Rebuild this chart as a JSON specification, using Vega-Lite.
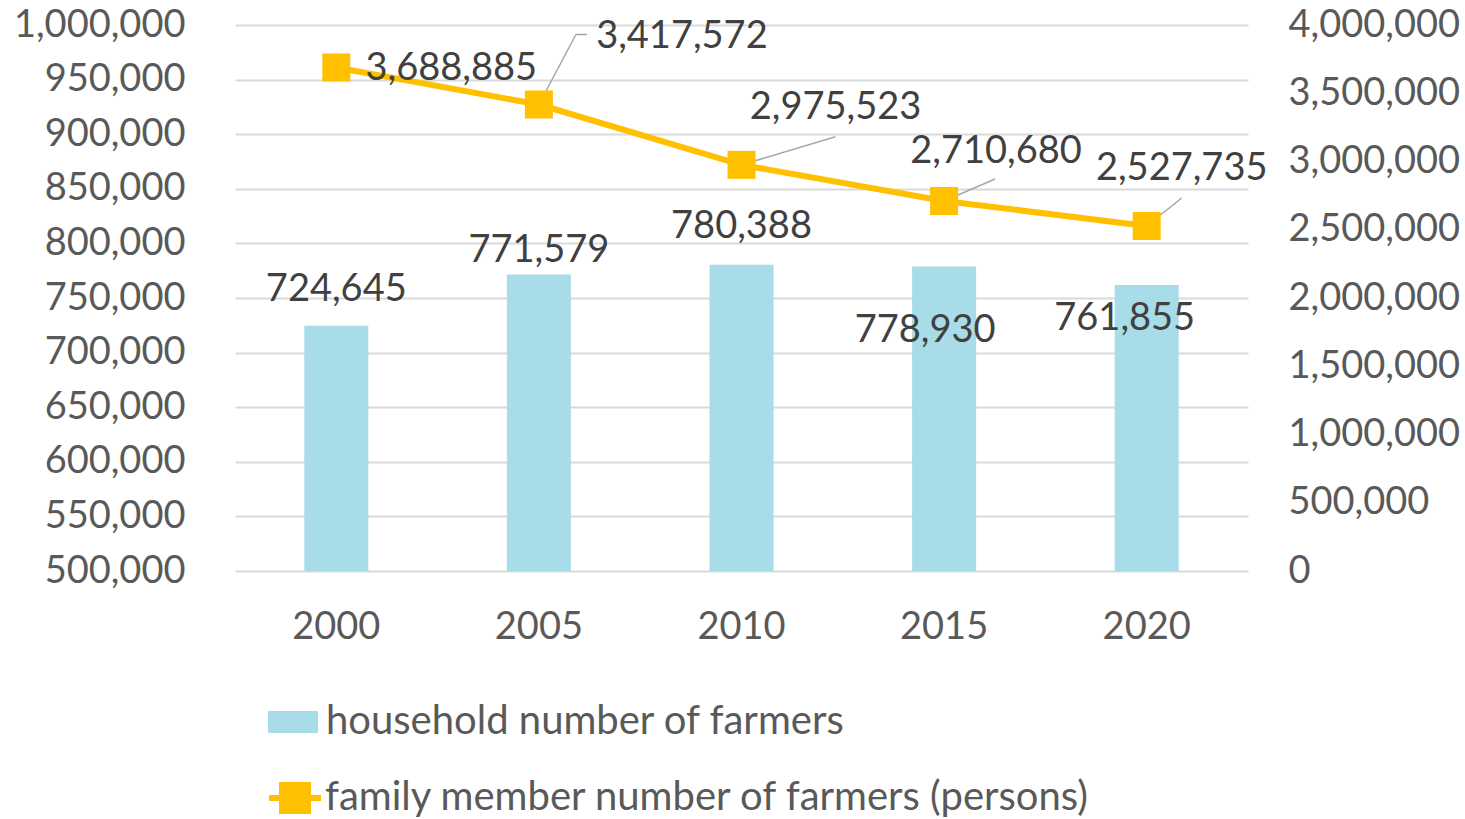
{
  "$schema": "https://vega.github.io/schema/vega-lite/v6.json",
  "width": 1013,
  "height": 546,
  "autosize": {"type": "none"},
  "padding": {"left": 235, "top": 25, "right": 217, "bottom": 248},
  "background": "#ffffff",
  "config": {
    "font": "Lato",
    "view": {"stroke": null},
    "axis": {"labelFont": "Lato", "labelFontSize": 38, "labelColor": "#595959", "ticks": false, "domain": false, "titleFontSize": 0},
    "legend": {"labelFont": "Lato", "labelFontSize": 40, "labelColor": "#595959", "labelLimit": 900}
  },
  "data": {
    "values": [
      {"year": "2000", "households": 724645, "members": 3688885},
      {"year": "2005", "households": 771579, "members": 3417572},
      {"year": "2010", "households": 780388, "members": 2975523},
      {"year": "2015", "households": 778930, "members": 2710680},
      {"year": "2020", "households": 761855, "members": 2527735}
    ]
  },
  "encoding": {
    "x": {
      "field": "year", "type": "nominal",
      "scale": {"paddingInner": 0.684, "paddingOuter": 0.342},
      "axis": {"title": null, "labelAngle": 0, "labelPadding": 37, "grid": false}
    }
  },
  "layer": [
    {
      "encoding": {
        "y": {
          "field": "households", "type": "quantitative",
          "scale": {"domain": [500000, 1000000], "zero": false, "nice": false},
          "axis": {"title": null, "orient": "left", "values": [500000, 550000, 600000, 650000, 700000, 750000, 800000, 850000, 900000, 950000, 1000000], "format": ",d", "grid": true, "gridColor": "#d9d9d9", "gridWidth": 2, "labelPadding": 50}
        }
      },
      "layer": [
        {
          "mark": {"type": "bar"},
          "encoding": {
            "y2": {"datum": 500000},
            "fill": {
              "datum": "household number of farmers",
              "type": "nominal",
              "scale": {"range": ["#a8dce8"]},
              "legend": {"title": null, "orient": "none", "legendX": 33, "legendY": 672, "symbolType": "M-1,-0.44H1V0.44H-1Z", "symbolSize": 2500, "symbolStrokeWidth": 0, "labelOffset": 8}
            }
          }
        },
        {"transform": [{"filter": "datum.year == '2000'"}], "mark": {"type": "text", "fontSize": 38, "color": "#404040", "baseline": "middle", "dy": -36}, "encoding": {"text": {"field": "households", "type": "quantitative", "format": ","}}},
        {"transform": [{"filter": "datum.year == '2005'"}], "mark": {"type": "text", "fontSize": 38, "color": "#404040", "baseline": "middle", "dy": -23}, "encoding": {"text": {"field": "households", "type": "quantitative", "format": ","}}},
        {"transform": [{"filter": "datum.year == '2010'"}], "mark": {"type": "text", "fontSize": 38, "color": "#404040", "baseline": "middle", "dy": -38}, "encoding": {"text": {"field": "households", "type": "quantitative", "format": ","}}},
        {"transform": [{"filter": "datum.year == '2015'"}], "mark": {"type": "text", "fontSize": 38, "color": "#404040", "baseline": "middle", "dx": -19, "dy": 65}, "encoding": {"text": {"field": "households", "type": "quantitative", "format": ","}}},
        {"transform": [{"filter": "datum.year == '2020'"}], "mark": {"type": "text", "fontSize": 38, "color": "#404040", "baseline": "middle", "dx": -22, "dy": 34}, "encoding": {"text": {"field": "households", "type": "quantitative", "format": ","}}}
      ]
    },
    {
      "encoding": {
        "y": {
          "field": "members", "type": "quantitative",
          "scale": {"domain": [0, 4000000], "nice": false},
          "axis": {"title": null, "orient": "right", "values": [0, 500000, 1000000, 1500000, 2000000, 2500000, 3000000, 3500000, 4000000], "format": ",d", "grid": false, "labelPadding": 40}
        }
      },
      "layer": [
        {"transform": [{"filter": "datum.year == '2005'"}], "mark": {"type": "rule", "color": "#a6a6a6", "strokeWidth": 1.5, "x2Offset": 37, "y2Offset": -70}, "encoding": {"x2": {"field": "year"}, "y2": {"field": "members"}}},
        {"transform": [{"filter": "datum.year == '2005'"}], "mark": {"type": "rule", "color": "#a6a6a6", "strokeWidth": 1.5, "xOffset": 37, "yOffset": -70, "x2Offset": 48, "y2Offset": -70}, "encoding": {"x2": {"field": "year"}, "y2": {"field": "members"}}},
        {"transform": [{"filter": "datum.year == '2010'"}], "mark": {"type": "rule", "color": "#a6a6a6", "strokeWidth": 1.5, "x2Offset": 94, "y2Offset": -28}, "encoding": {"x2": {"field": "year"}, "y2": {"field": "members"}}},
        {"transform": [{"filter": "datum.year == '2015'"}], "mark": {"type": "rule", "color": "#a6a6a6", "strokeWidth": 1.5, "x2Offset": 51, "y2Offset": -22}, "encoding": {"x2": {"field": "year"}, "y2": {"field": "members"}}},
        {"transform": [{"filter": "datum.year == '2020'"}], "mark": {"type": "rule", "color": "#a6a6a6", "strokeWidth": 1.5, "x2Offset": 35, "y2Offset": -28}, "encoding": {"x2": {"field": "year"}, "y2": {"field": "members"}}},
        {
          "mark": {"type": "line", "strokeWidth": 6},
          "encoding": {
            "stroke": {
              "datum": "family member number of farmers (persons)",
              "type": "nominal",
              "scale": {"range": ["#ffc000"]},
              "legend": {"title": null, "orient": "none", "legendX": 31, "legendY": 744, "symbolType": "M-1,0H1M-0.5,-0.5H0.5V0.5H-0.5Z", "symbolSize": 2704, "symbolStrokeWidth": 6, "symbolFillColor": "#ffc000", "labelOffset": 1}
            }
          }
        },
        {"mark": {"type": "point", "shape": "square", "size": 784, "filled": true, "color": "#ffc000", "opacity": 1}},
        {"transform": [{"filter": "datum.year == '2000'"}], "mark": {"type": "text", "fontSize": 38, "color": "#404040", "baseline": "middle", "dx": 115, "dy": 2}, "encoding": {"text": {"field": "members", "type": "quantitative", "format": ","}}},
        {"transform": [{"filter": "datum.year == '2005'"}], "mark": {"type": "text", "fontSize": 38, "color": "#404040", "baseline": "middle", "dx": 143, "dy": -68}, "encoding": {"text": {"field": "members", "type": "quantitative", "format": ","}}},
        {"transform": [{"filter": "datum.year == '2010'"}], "mark": {"type": "text", "fontSize": 38, "color": "#404040", "baseline": "middle", "dx": 94, "dy": -57}, "encoding": {"text": {"field": "members", "type": "quantitative", "format": ","}}},
        {"transform": [{"filter": "datum.year == '2015'"}], "mark": {"type": "text", "fontSize": 38, "color": "#404040", "baseline": "middle", "dx": 52, "dy": -49}, "encoding": {"text": {"field": "members", "type": "quantitative", "format": ","}}},
        {"transform": [{"filter": "datum.year == '2020'"}], "mark": {"type": "text", "fontSize": 38, "color": "#404040", "baseline": "middle", "dx": 35, "dy": -57}, "encoding": {"text": {"field": "members", "type": "quantitative", "format": ","}}}
      ]
    }
  ],
  "resolve": {"scale": {"y": "independent"}}
}
